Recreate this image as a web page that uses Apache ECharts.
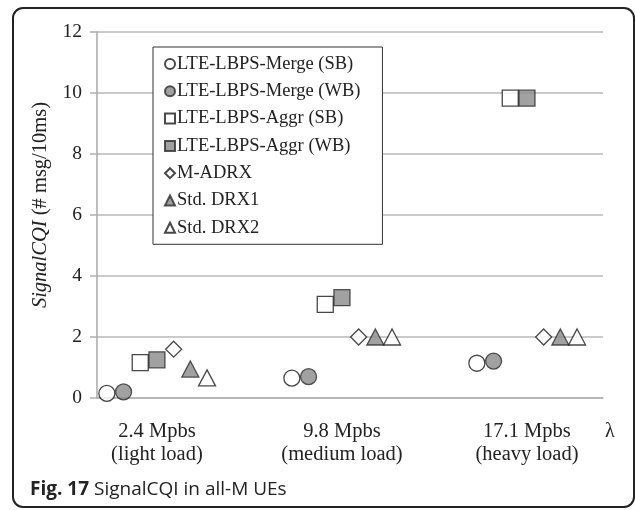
<!DOCTYPE html>
<html>
<head>
<meta charset="utf-8">
<script src="https://cdn.jsdelivr.net/npm/echarts@6/dist/echarts.min.js"></script>
<style>
  html, body { margin: 0; padding: 0; background: #fff; }
  #chart { width: 635px; height: 510px; }
</style>
</head>
<body>
<div id="chart"></div>
<script>
// Offered load levels (x categories)
const loadLabels = ['2.4 Mpbs\n(light load)', '9.8 Mpbs\n(medium load)', '17.1 Mpbs\n(heavy load)'];
const loadPositions = [0, 1, 2];

// SignalCQI (# msg/10ms) per scheme, one value per load level
const seriesNames = [
  'LTE-LBPS-Merge (SB)',
  'LTE-LBPS-Merge (WB)',
  'LTE-LBPS-Aggr (SB)',
  'LTE-LBPS-Aggr (WB)',
  'M-ADRX',
  'Std. DRX1',
  'Std. DRX2'
];
const mergeSB = [0.15, 0.65, 1.14];
const mergeWB = [0.20, 0.70, 1.21];
const aggrSB  = [1.16, 3.07, 9.83];
const aggrWB  = [1.25, 3.29, 9.83];
const mAdrx   = [1.60, 2.00, 2.00];
const stdDrx1 = [0.95, 2.00, 2.00];
const stdDrx2 = [0.66, 2.00, 2.00];

// Y axis ticks
const yMin = 0, yMax = 12, yStep = 2;

const seriesValues = [mergeSB, mergeWB, aggrSB, aggrWB, mAdrx, stdDrx1, stdDrx2];

const SERIF = '"Liberation Serif", "Times New Roman", serif';
const OPEN = { color: '#ffffff', borderColor: '#1a1a1a', borderWidth: 1.3 };
const FILLED = { color: '#8a8a8a', borderColor: '#2a2a2a', borderWidth: 1.3 };

const markerStyles = [
  { symbol: 'circle',   size: 16, style: OPEN },
  { symbol: 'circle',   size: 16, style: FILLED },
  { symbol: 'rect',     size: 16, style: OPEN },
  { symbol: 'rect',     size: 16, style: FILLED },
  { symbol: 'diamond',  size: 16, style: OPEN },
  { symbol: 'triangle', size: [17, 16], style: FILLED },
  { symbol: 'triangle', size: [17, 16], style: OPEN }
];
const groupStep = 16.7; // horizontal spacing of schemes inside a load group (px)

const series = seriesNames.map((name, i) => ({
  name: name,
  type: 'scatter',
  symbol: markerStyles[i].symbol,
  symbolSize: markerStyles[i].size,
  symbolOffset: [(i - 3) * groupStep, 0],
  itemStyle: markerStyles[i].style,
  z: 3,
  data: loadPositions.map((x, k) => [x, seriesValues[i][k]])
}));

const chart = echarts.init(document.getElementById('chart'), null, { renderer: 'canvas' });
chart.setOption({
  animation: false,
  backgroundColor: '#ffffff',
  grid: { left: 97, right: 32, top: 32, bottom: 112, containLabel: false },
  xAxis: {
    type: 'value',
    min: -0.324,
    max: 2.411,
    name: 'λ',
    nameLocation: 'end',
    nameGap: 2,
    nameTextStyle: { fontFamily: SERIF, fontSize: 20, color: '#222', verticalAlign: 'top', padding: [24, 0, 0, 0] },
    axisLine: { show: true, onZero: false, lineStyle: { color: '#b0b0b0', width: 1.5 } },
    axisTick: { show: false },
    splitLine: { show: false },
    axisLabel: {
      customValues: loadPositions,
      formatter: v => loadLabels[Math.round(v)],
      fontFamily: SERIF,
      fontSize: 20.5,
      lineHeight: 23,
      color: '#222',
      margin: 22
    }
  },
  yAxis: {
    type: 'value',
    min: yMin,
    max: yMax,
    interval: yStep,
    name: '{i|SignalCQI} (# msg/10ms)',
    nameLocation: 'middle',
    nameGap: 35,
    nameRotate: 90,
    nameTextStyle: {
      fontFamily: SERIF, fontSize: 20.5, color: '#222',
      padding: [0, 0, 0, 20],
      rich: { i: { fontFamily: SERIF, fontSize: 20.5, fontStyle: 'italic', color: '#222' } }
    },
    axisLine: { show: true, onZero: false, lineStyle: { color: '#a8a8a8', width: 1.5 } },
    axisTick: { show: true, inside: false, length: 7, lineStyle: { color: '#b0b0b0', width: 1.5 } },
    splitLine: { show: true, lineStyle: { color: '#b8b8b8', width: 1.5 } },
    axisLabel: { fontFamily: SERIF, fontSize: 19.5, color: '#222', margin: 15 }
  },
  legend: {
    orient: 'vertical',
    left: 153,
    top: 47,
    padding: [7.5, 22, 7, 11],
    itemWidth: 10,
    itemHeight: 10,
    itemGap: 8.3,
    backgroundColor: '#ffffff',
    borderColor: '#333333',
    borderWidth: 1,
    textStyle: { fontFamily: SERIF, fontSize: 18.5, color: '#222', padding: [0, 0, 0, -3] },
    data: seriesNames
  },
  graphic: [
    {
      type: 'rect',
      shape: { x: 13, y: 8, width: 621, height: 499, r: 10 },
      style: { fill: null, stroke: '#222', lineWidth: 2 },
      silent: true,
      z: 10
    },
    {
      type: 'text',
      left: 30,
      top: 480,
      style: {
        text: '{b|Fig. 17} SignalCQI in all-M UEs',
        font: '19px "Open Sans", sans-serif',
        fill: '#222',
        rich: { b: { font: 'bold 19px "Open Sans", sans-serif', fill: '#222' } }
      }
    }
  ],
  series: series
});
</script>
</body>
</html>
